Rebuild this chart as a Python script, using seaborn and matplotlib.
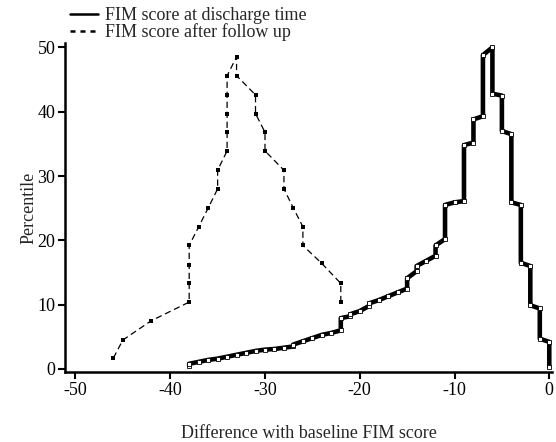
import matplotlib
matplotlib.use("Agg")
import matplotlib.pyplot as plt
from matplotlib.lines import Line2D
import seaborn as sns

# mountain plot: difference with baseline FIM score vs folded percentile
discharge_x = [-38, -38, -37, -36, -35, -34, -33, -32, -31, -30, -29, -28, -27, -27,
               -26, -25, -24, -23, -22, -22, -21, -21, -20, -19, -19, -18, -17, -16,
               -15, -15, -14, -14, -13, -12, -12, -11, -11, -10, -9, -9, -8, -8,
               -7, -7, -6, -6, -5, -5, -4, -4, -3, -3, -2, -2, -1, -1, 0, 0]
discharge_y = [0.5, 0.8, 1.1, 1.4, 1.6, 1.9, 2.2, 2.5, 2.8, 3.0, 3.1, 3.3, 3.5, 3.8,
               4.3, 4.8, 5.3, 5.6, 6.0, 7.9, 8.2, 8.5, 9.0, 9.8, 10.2, 10.7, 11.3, 11.9,
               12.5, 14.1, 15.2, 16.0, 16.8, 17.6, 19.2, 20.2, 25.5, 25.9, 26.1, 34.8, 35.2, 38.8,
               39.3, 48.8, 50.0, 42.8, 42.5, 37.0, 36.5, 25.9, 25.5, 16.5, 16.0, 9.9, 9.4, 4.7, 4.2, 0.3]

followup_x = [-46, -45, -42, -38, -38, -38, -38, -37, -36, -35, -35,
              -34, -34, -34, -34, -34, -33,
              -33, -31, -31, -30, -30, -28, -28, -27, -26, -26, -24, -22, -22]
followup_y = [1.7, 4.5, 7.5, 10.4, 13.3, 16.2, 19.2, 22.1, 25.0, 28.0, 30.9,
              33.9, 36.8, 39.7, 42.6, 45.6, 48.5,
              45.6, 42.6, 39.7, 36.8, 33.9, 30.9, 28.0, 25.0, 22.1, 19.2, 16.4, 13.3, 10.4]

labels = ["FIM score at discharge time", "FIM score after follow up"]

sns.set_theme(style="ticks")
plt.rcParams["font.family"] = ["Liberation Serif", "DejaVu Serif"]
plt.rcParams["font.size"] = 13
plt.rcParams["axes.unicode_minus"] = False

fig = plt.figure(figsize=(5.56, 4.42), dpi=100)
ax = fig.add_axes([0.117, 0.158, 0.876, 0.745])

sns.lineplot(x=discharge_x, y=discharge_y, sort=False, estimator=None, ax=ax,
             color="black", linewidth=3.3, marker="s", markersize=2.5,
             markerfacecolor="white", markeredgecolor="black", markeredgewidth=0.6)
sns.lineplot(x=followup_x, y=followup_y, sort=False, estimator=None, ax=ax,
             color="black", linewidth=0.9, linestyle=(0, (5, 3)),
             marker="s", markersize=3.5, markeredgewidth=0)

ax.set_xlim(-51.1, 0.3)
ax.set_ylim(-0.5, 50.7)
ax.set_xticks([-50, -40, -30, -20, -10, 0])
ax.set_yticks([0, 10, 20, 30, 40, 50])
ax.tick_params(direction="out", length=5, width=1.5, labelsize=13, colors="black", pad=2)
for s in ["left", "bottom"]:
    ax.spines[s].set_linewidth(1.8)
    ax.spines[s].set_color("black")
sns.despine(ax=ax)

ax.set_xlabel("Difference with baseline FIM score", fontsize=13, labelpad=19)
ax.set_ylabel("Percentile", fontsize=13, labelpad=0)

handles = [Line2D([], [], color="black", linewidth=1.8),
           Line2D([], [], color="black", linewidth=1.8, linestyle=(0, (2, 2)))]
fig.legend(handles, labels, loc="upper left", bbox_to_anchor=(70 / 556, 1 - 7 / 442),
           frameon=False, fontsize=13, handlelength=1.55, handletextpad=0.4,
           labelspacing=-0.05, borderpad=0, borderaxespad=0)

fig.savefig("out.png", dpi=100)
